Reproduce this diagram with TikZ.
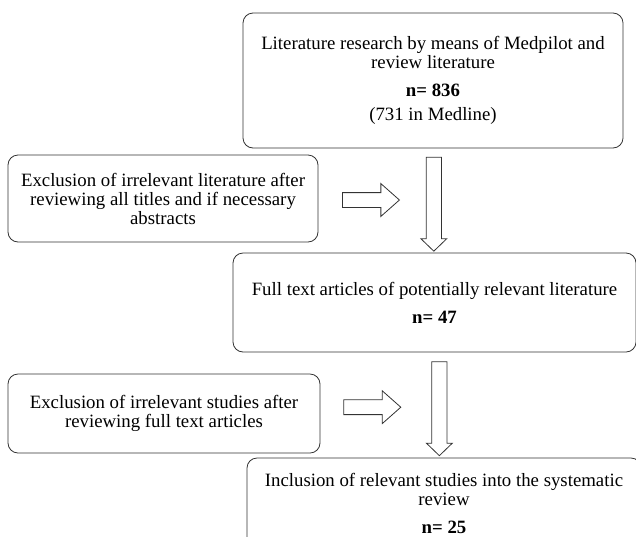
\documentclass[tikz,border=0pt]{standalone}
\usepackage{fontspec}
\setmainfont{Liberation Serif}
\usetikzlibrary{shapes.arrows}

\begin{document}
\begin{tikzpicture}[
    x=1pt, y=-1pt,
    thick,
    box node/.style={draw=black!80, line width=0.8pt, rounded corners=10pt, align=center, inner sep=0pt, font=\fontsize{18.8}{19}\selectfont},
    down arrow/.style={single arrow, draw=black!80, line width=0.8pt, rotate=-90, minimum height=94pt, inner xsep=0pt, inner ysep=7.2pt, single arrow head extend=5.3pt, single arrow tip angle=92},
    right arrow/.style={single arrow, draw=black!80, line width=0.8pt, minimum height=57pt, inner xsep=0pt, inner ysep=7pt, single arrow head extend=9pt, single arrow tip angle=83}
]
\path[use as bounding box, clip] (0, 0) rectangle (636, 536);

% Nodes
\node[box node, minimum width=380pt, minimum height=135pt] at (433, 80.5) (search) {Literature research by means of Medpilot and\\review literature\\[9pt]\textbf{n= 836}\\[5pt](731 in Medline)};
\node[box node, minimum width=310pt, minimum height=87pt] at (163, 198.5) (excl1) {Exclusion of irrelevant literature after\\reviewing all titles and if necessary\\abstracts};
\node[box node, minimum width=403pt, minimum height=99pt] at (434.5, 302.5) (fulltext) {Full text articles of potentially relevant literature\\[9pt]\textbf{n= 47}};
\node[box node, minimum width=312pt, minimum height=79pt] at (164, 413.5) (excl2) {Exclusion of irrelevant studies after\\reviewing full text articles};
\node[box node, minimum width=394pt, minimum height=90pt] at (444, 503) (incl) {Inclusion of relevant studies into the systematic\\review\\[9pt]\textbf{n= 25}};

% Arrows down
\path (search) -- (fulltext) node[down arrow, midway] (arr1) {};
\path (fulltext) -- (incl) node[down arrow, midway] (arr2) {};

% Arrows right
\path (excl1) -- (arr1) node[right arrow, pos=0.45] (arr3) {};
\path (excl2) -- (arr2) node[right arrow, pos=0.43] (arr4) {};

\end{tikzpicture}
\end{document}
